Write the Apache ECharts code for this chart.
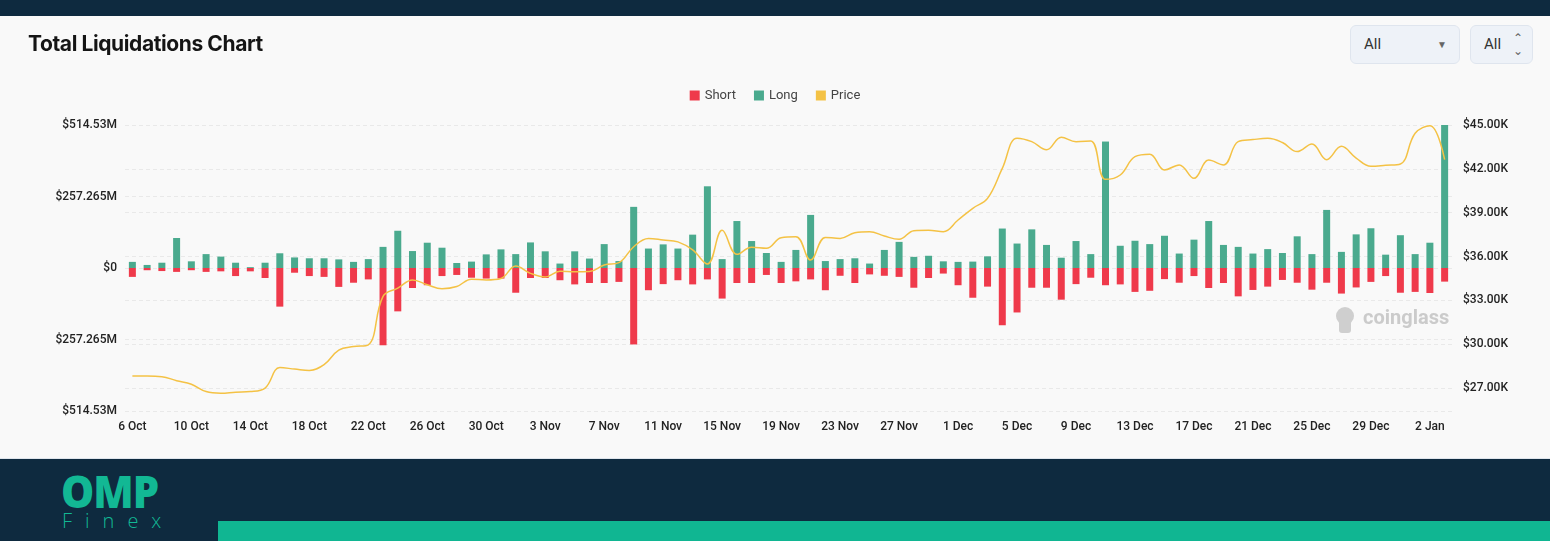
<!DOCTYPE html>
<html>
<head>
<meta charset="utf-8">
<script src="https://cdn.jsdelivr.net/npm/echarts@6/dist/echarts.min.js"></script>
<style>
  body { margin: 0; width: 1550px; height: 541px; overflow: hidden; background: #0e2a3f; font-family: Roboto, 'Noto Sans', sans-serif; }
  .panel { position: absolute; left: 0; top: 16px; width: 1550px; height: 442px; background: #f9f9f9; border-bottom: 1px solid #dfe5ec; }
  .title { position: absolute; left: 28px; top: 15px; font-family: Inter, Roboto, sans-serif; font-size: 21px; font-weight: 700; color: #151515; letter-spacing: -0.4px; z-index: 2; }
  .sel { position: absolute; top: 9px; height: 39px; background: #eef2f8; border: 1px solid #dfe5ee; border-radius: 6px; box-sizing: border-box; font-size: 15px; color: #333; line-height: 37px; z-index: 2; }
  .sel span { position: absolute; left: 13px; }
  .sel i { position: absolute; font-style: normal; color: #666; }
  #main { position: absolute; left: 0; top: 0; width: 1550px; height: 442px; }
  .foot { position: absolute; left: 0; top: 459px; width: 1550px; height: 82px; }
  .omp { position: absolute; left: 61px; top: 12px; font-family: 'Open Sans', Roboto, sans-serif; font-weight: 800; font-size: 44px; line-height: 40px; color: #12b894; letter-spacing: -1px; transform: scaleX(0.95); transform-origin: left; }
  .finex { position: absolute; left: 62px; top: 48px; font-family: 'Open Sans', sans-serif; font-weight: 300; font-size: 20px; color: #12b894; letter-spacing: 13px; }
  .bar { position: absolute; left: 218px; top: 62px; width: 1332px; height: 20px; background: #10b692; }
</style>
</head>
<body>
<div class="panel">
  <div id="main"></div>
  <div class="title">Total Liquidations Chart</div>
  <div class="sel" style="left:1350px;width:110px;"><span>All</span><i style="left:86px;font-size:10px;">&#9660;</i></div>
  <div class="sel" style="left:1470px;width:63px;"><span>All</span><i style="left:42px;font-size:12px;line-height:13px;top:6px;">&#8963;<br>&#8964;</i></div>
</div>
<div class="foot">
  <div class="omp">OMP</div>
  <div class="finex">Finex</div>
  <div class="bar"></div>
</div>
<script>
const dates = [
  '6 Oct', '7 Oct', '8 Oct', '9 Oct', '10 Oct', '11 Oct', '12 Oct', '13 Oct', '14 Oct', '15 Oct',
  '16 Oct', '17 Oct', '18 Oct', '19 Oct', '20 Oct', '21 Oct', '22 Oct', '23 Oct', '24 Oct', '25 Oct',
  '26 Oct', '27 Oct', '28 Oct', '29 Oct', '30 Oct', '31 Oct',
  '1 Nov', '2 Nov', '3 Nov', '4 Nov', '5 Nov', '6 Nov', '7 Nov', '8 Nov', '9 Nov', '10 Nov',
  '11 Nov', '12 Nov', '13 Nov', '14 Nov', '15 Nov', '16 Nov', '17 Nov', '18 Nov', '19 Nov', '20 Nov',
  '21 Nov', '22 Nov', '23 Nov', '24 Nov', '25 Nov', '26 Nov', '27 Nov', '28 Nov', '29 Nov', '30 Nov',
  '1 Dec', '2 Dec', '3 Dec', '4 Dec', '5 Dec', '6 Dec', '7 Dec', '8 Dec', '9 Dec', '10 Dec',
  '11 Dec', '12 Dec', '13 Dec', '14 Dec', '15 Dec', '16 Dec', '17 Dec', '18 Dec', '19 Dec', '20 Dec',
  '21 Dec', '22 Dec', '23 Dec', '24 Dec', '25 Dec', '26 Dec', '27 Dec', '28 Dec', '29 Dec', '30 Dec', '31 Dec',
  '1 Jan', '2 Jan', '3 Jan'
]

// liquidations in $M
const longLiq = [
  22, 11, 19, 108, 24, 50, 41, 19, 3, 19, 53, 38, 35, 35, 31, 22, 32, 76, 134, 61, 91, 73, 18, 23, 49, 67,
  50, 92, 60, 16, 60, 34, 86, 25, 220, 70, 85, 70, 120, 294, 32, 169, 97, 54, 22, 65, 191, 25, 32, 35, 16, 65, 94, 40, 44, 24,
  22, 23, 42, 142, 88, 139, 83, 37, 97, 50, 455, 80, 98, 86, 116, 52, 102, 169, 83, 76,
  52, 68, 54, 114, 50, 209, 58, 121, 143, 48, 118,
  50, 91, 514.53
]
const shortLiq = [
  32, 8, 11, 14, 8, 14, 12, 29, 12, 36, 139, 17, 29, 32, 68, 53, 41, 278, 156, 72, 62, 29, 25, 35, 38, 38,
  89, 36, 36, 44, 59, 54, 54, 50, 275, 80, 58, 44, 59, 41, 110, 54, 54, 25, 54, 48, 41, 80, 28, 54, 23, 28, 32, 71, 36, 20,
  62, 107, 67, 206, 160, 71, 71, 114, 58, 35, 62, 59, 86, 82, 40, 53, 29, 72, 54, 102,
  79, 67, 43, 53, 78, 53, 92, 70, 50, 29, 89,
  86, 90, 49
]
const price = [
  27820, 27820, 27780, 27500, 27260, 26760, 26650, 26720, 26760, 27000, 28400, 28300, 28200, 28600, 29600, 29840,
  29960, 33270, 33840, 34400, 34070, 33800, 33950, 34450, 34400, 34500,
  35350, 34850, 34600, 35000, 34950, 34970, 35420, 35580, 36670, 37240, 37130, 37000, 36450, 35490, 37800,
  36150, 36630, 36560, 37290, 37360, 35760, 37310, 37240, 37630, 37700, 37400, 37180, 37770, 37800, 37700,
  38500, 39300, 39980, 42030, 44100, 43860, 43300, 44160, 43860, 43900, 41280, 41580, 42830, 43000, 41920,
  42270, 41350, 42600, 42270, 43860, 44000, 44090, 43800, 43180, 43700, 42630, 43540, 42740, 42170, 42240, 42330,
  44430, 44950, 42630
]
const liqTicks = 257.265
const priceTicks = [27000, 30000, 33000, 36000, 39000, 42000, 45000]

const chart = echarts.init(document.getElementById('main'))
const gridLine = { show: true, lineStyle: { color: '#e9e9e9', type: [4, 3], width: 1 } }
const labelStyle = { color: '#222', fontSize: 12, fontWeight: 500, fontFamily: 'Roboto, sans-serif' }

const option = {
  animation: false,
  textStyle: { fontFamily: 'Roboto, sans-serif' },
  legend: {
    top: 68,
    left: 'center',
    icon: 'rect',
    itemWidth: 10,
    itemHeight: 10,
    itemGap: 18,
    textStyle: { color: '#444', fontSize: 13 },
    data: ['Short', 'Long', 'Price']
  },
  grid: { left: 125, right: 98, top: 109, bottom: 47 },
  xAxis: {
    type: 'category',
    data: dates,
    axisLine: { show: false },
    axisTick: { show: false },
    axisLabel: Object.assign({ interval: 3, margin: 10 }, labelStyle)
  },
  yAxis: [
    {
      type: 'value',
      min: -2 * liqTicks,
      max: 2 * liqTicks,
      interval: liqTicks,
      splitLine: gridLine,
      axisLabel: Object.assign({
        margin: 8,
        formatter: v => {
          const a = Math.abs(+v.toFixed(3))
          return a === 0 ? '$0' : '$' + a + 'M'
        }
      }, labelStyle)
    },
    {
      type: 'value',
      position: 'right',
      min: 25430,
      max: 45000,
      splitLine: gridLine,
      axisTick: { show: false, customValues: priceTicks },
      axisLabel: Object.assign({
        margin: 11,
        customValues: priceTicks,
        formatter: v => '$' + (v / 1000).toFixed(2) + 'K'
      }, labelStyle)
    }
  ],
  graphic: [
    {
      type: 'group',
      left: 1336,
      top: 291,
      silent: true,
      children: [
        { type: 'circle', shape: { cx: 11, cy: 9, r: 9 }, style: { fill: '#cfcfcf' } },
        { type: 'rect', shape: { x: 5, y: 10, width: 12, height: 16, r: 3 }, style: { fill: '#cfcfcf' } },
        { type: 'text', style: { x: 29, y: 2, text: 'coinglass', fill: '#cbcbcb', font: 'bold 20px Roboto, sans-serif' } }
      ]
    }
  ],
  series: [
    {
      name: 'Short',
      type: 'bar',
      stack: 'liq',
      barWidth: 7,
      itemStyle: { color: '#ef3a4b' },
      data: shortLiq.map(v => -v)
    },
    {
      name: 'Long',
      type: 'bar',
      stack: 'liq',
      barWidth: 7,
      itemStyle: { color: '#4aaa8e' },
      data: longLiq
    },
    {
      name: 'Price',
      type: 'line',
      yAxisIndex: 1,
      smooth: 0.4,
      symbol: 'none',
      itemStyle: { color: '#f4c245' },
      lineStyle: { color: '#f4c245', width: 1.5 },
      data: price
    }
  ]
}
chart.setOption(option)
</script>
</body>
</html>
